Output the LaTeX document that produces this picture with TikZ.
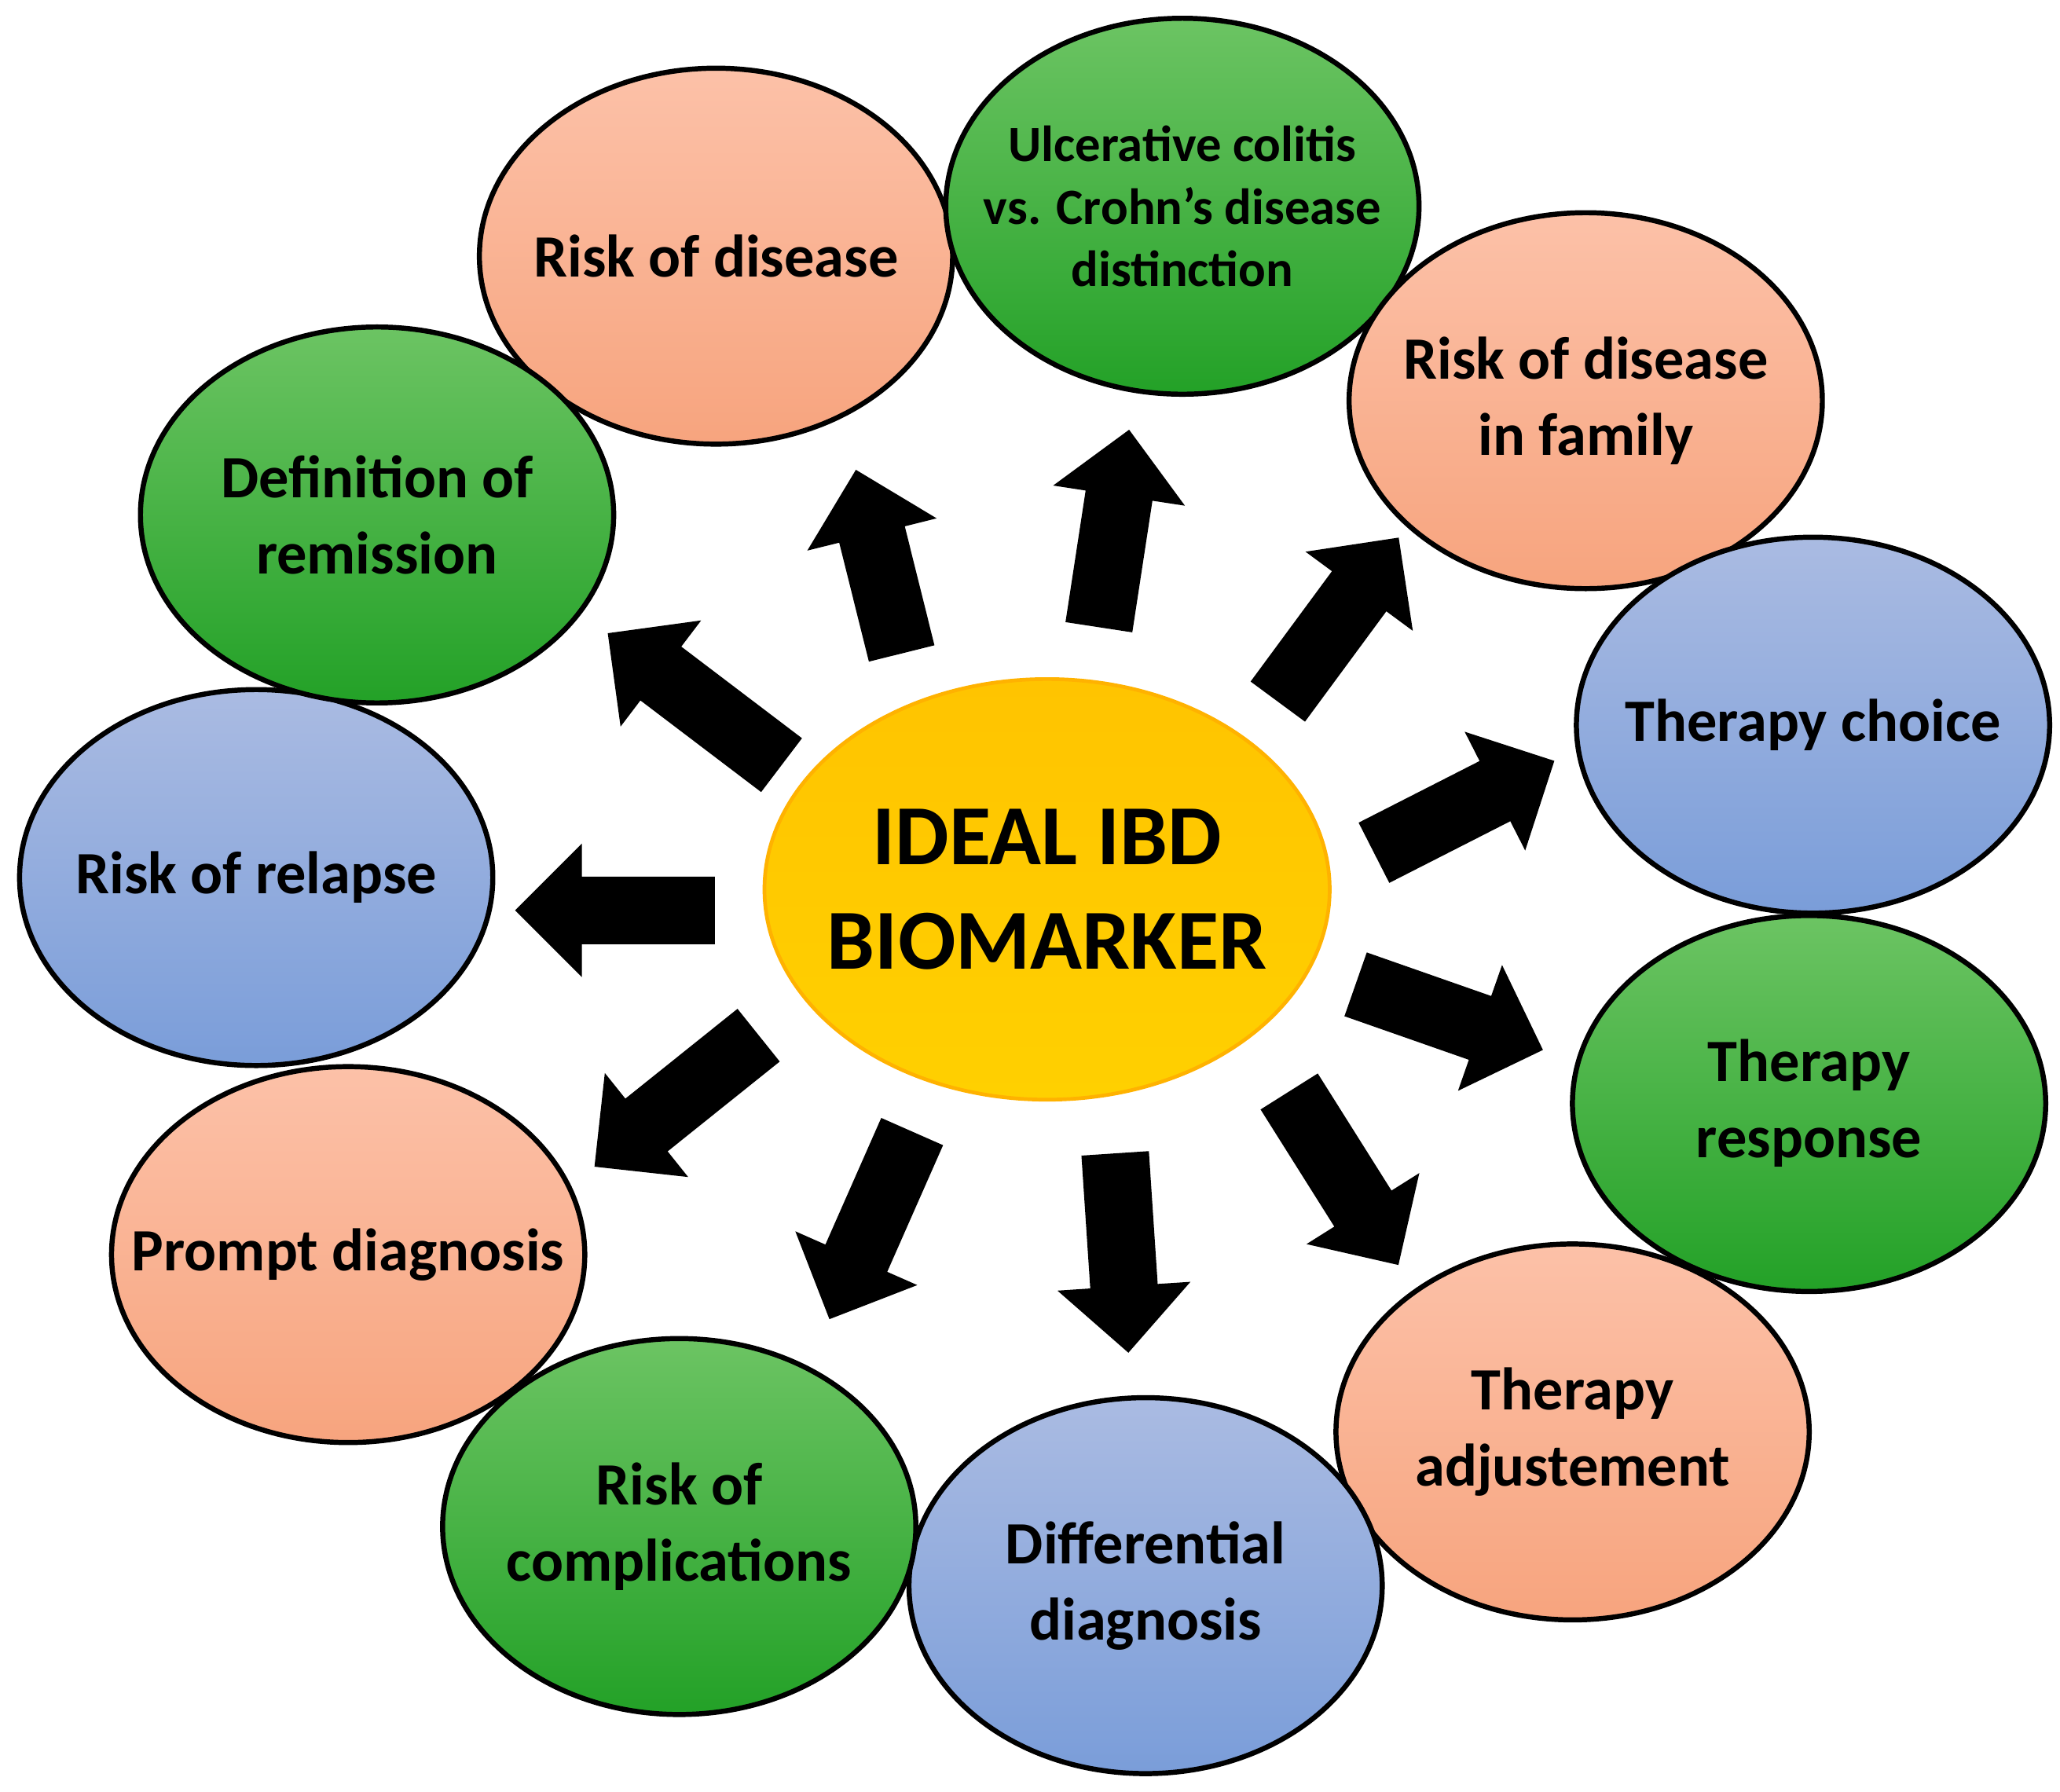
\documentclass[tikz,border=0pt]{standalone}
\usepackage{fontspec}
\setmainfont{Carlito}
\usetikzlibrary{shapes.geometric,shapes.arrows}
\definecolor{salT}{HTML}{FCC1A8}\definecolor{salB}{HTML}{F7A47E}
\definecolor{grnT}{HTML}{6CC463}\definecolor{grnB}{HTML}{23A127}
\definecolor{bluT}{HTML}{AABBE2}\definecolor{bluB}{HTML}{7A9DD9}
\definecolor{ctrT}{HTML}{FFC400}\definecolor{ctrB}{HTML}{FFD000}
\begin{document}
\begin{tikzpicture}[x=0.01cm,y=-0.01cm,
 bub/.style={ellipse,draw=black,line width=1.1pt,minimum width=3.6cm,minimum height=2.86cm,inner sep=0pt},
 txt/.style={align=center,font=\bfseries\fontsize{13}{16.5}\selectfont},
 sal/.style={bub,top color=salT,bottom color=salB},
 grn/.style={bub,top color=grnT,bottom color=grnB},
 blu/.style={bub,top color=bluT,bottom color=bluB},
 arr/.style={single arrow,fill=black,inner xsep=0pt,inner ysep=0.25cm,single arrow head extend=0.25cm}]
\useasboundingbox (0,0) rectangle (1568,1364);
\node[sal,label={[txt]center:Risk of disease}] (rd) at (545,195) {};
\node[grn,label={[txt,font=\bfseries\fontsize{11}{13.5}\selectfont]center:Ulcerative colitis\\vs. Crohn’s disease\\distinction}] (uc) at (900,157) {};
\node[sal,label={[txt]center:Risk of disease\\in family}] (rf) at (1207,305) {};
\node[blu,label={[txt]center:Therapy choice}] (tc) at (1380,552) {};
\node[grn,label={[txt]center:Therapy\\response}] (tr) at (1377,840) {};
\node[sal,label={[txt]center:Therapy\\adjustement}] (ta) at (1197,1090) {};
\node[blu,label={[txt]center:Differential\\diagnosis}] (dd) at (872,1207) {};
\node[grn,label={[txt]center:Risk of\\complications}] (rc) at (517,1162) {};
\node[sal,label={[txt]center:Prompt diagnosis}] (pd) at (265,955) {};
\node[blu,label={[txt]center:Risk of relapse}] (rr) at (195,668) {};
\node[grn,label={[txt]center:Definition of\\remission}] (dr) at (287,392) {};
\node[ellipse,draw=orange!60!yellow,line width=0.8pt,top color=ctrT,bottom color=ctrB,minimum width=4.3cm,minimum height=3.2cm,inner sep=0pt,label={[txt,font=\bfseries\fontsize{18.5}{22.5}\selectfont]center:IDEAL IBD\\BIOMARKER}] (c) at (797,677) {};
\node[arr,rotate=104,minimum height=1.44cm] (a1) at (672,440) {};
\node[arr,rotate=81.3,minimum height=1.52cm] (a2) at (846,415) {};
\node[arr,rotate=53.6,minimum height=1.55cm] (a3) at (1011,482) {};
\node[arr,rotate=27,minimum height=1.54cm] (a4) at (1103,620) {};
\node[arr,rotate=-19.3,minimum height=1.51cm] (a5) at (1091,770) {};
\node[arr,rotate=-57.8,minimum height=1.56cm] (a6) at (1016,886) {};
\node[arr,rotate=-86.2,minimum height=1.52cm] (a7) at (853,941) {};
\node[arr,rotate=-113.8,minimum height=1.56cm] (a8) at (668,921) {};
\node[arr,rotate=-141.3,minimum height=1.6cm] (a9) at (525,830) {};
\node[arr,rotate=180,minimum height=1.52cm] (a10) at (481,693) {};
\node[arr,rotate=142.8,minimum height=1.66cm] (a11) at (539,540) {};
\end{tikzpicture}
\end{document}
